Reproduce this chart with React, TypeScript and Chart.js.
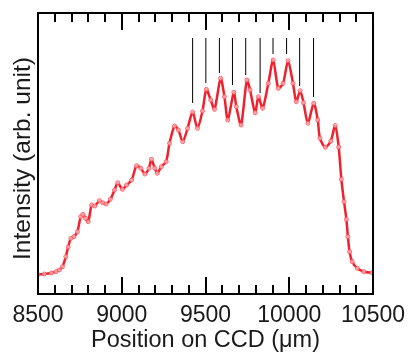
import React, { useEffect, useRef } from "react";
import { Chart, registerables } from "chart.js";

Chart.register(...registerables);

// Spectrum positions (µm) and intensities (arb. unit)
const positions = [
  8500, 8538, 8580, 8607, 8627, 8646, 8666, 8680, 8696, 8715, 8735, 8755, 8768, 8784, 8800,
  8820, 8839, 8867, 8886, 8906, 8932, 8957, 8976, 9004, 9029, 9059, 9088, 9114, 9138, 9162,
  9177, 9197, 9212, 9236, 9265, 9285, 9315, 9338, 9364, 9393, 9423, 9452, 9482, 9505, 9531,
  9554, 9590, 9613, 9633, 9669, 9684, 9712, 9747, 9766, 9796, 9816, 9841, 9875, 9904, 9934,
  9963, 9993, 10022, 10042, 10065, 10085, 10111, 10146, 10170, 10183, 10215, 10248, 10274, 10295,
  10311, 10327, 10341, 10350, 10360, 10376, 10406, 10445, 10494,
];
const intensities = [
  19.5, 20, 21, 22.3, 24, 27.3, 37.3, 47, 55.7, 57.3, 62.3, 77.3, 79.7, 75.7, 72.3,
  89, 88, 93.3, 91.3, 90, 94.7, 104, 111.3, 104.7, 109, 114, 128.3, 125.7, 120, 125.7,
  134.7, 125.7, 120.7, 127.3, 132.3, 150.7, 168, 164, 152.3, 165.7, 182, 165.7, 183, 204.7, 194,
  184.7, 215.7, 197.3, 174, 201.7, 187.3, 169, 214, 204, 181.3, 197.3, 185.7, 210.7, 234, 205.7,
  210.7, 233.3, 210.7, 192.3, 203.3, 191.3, 170.7, 190.7, 174, 155.7, 146.7, 153, 168.5, 147,
  114.7, 92.3, 74.7, 57.3, 42.3, 32.3, 25.7, 22.3, 21.3,
];

// Peak marker lines
const markerPositions = [9423, 9502, 9583, 9661, 9740, 9826, 9903, 9984, 10062, 10145];
const markerBottoms = [191, 211, 221, 209, 219, 201, 240, 240, 208, 197];
const markerTop = 256;

// Axis ticks
const xMajorTicks = [8500, 9000, 9500, 10000, 10500];
const xMinorTicks = [
  8600, 8700, 8800, 8900, 9100, 9200, 9300, 9400, 9600, 9700, 9800, 9900,
  10100, 10200, 10300, 10400,
];

const yTitle = "Intensity (arb. unit)";
const xTitle = "Position on CCD (μm)";

const FONT = "'Liberation Sans', Arial, sans-serif";

const frameTicksPlugin = {
  id: "frameTicks",
  afterDraw(chart: any) {
    const { ctx, chartArea } = chart;
    const xs = chart.scales.x;
    ctx.save();
    ctx.strokeStyle = "#000";
    ctx.lineWidth = 2;
    const drawTick = (v: number, len: number) => {
      const px = Math.round(xs.getPixelForValue(v));
      ctx.beginPath();
      ctx.moveTo(px, chartArea.bottom);
      ctx.lineTo(px, chartArea.bottom - len);
      ctx.moveTo(px, chartArea.top);
      ctx.lineTo(px, chartArea.top + len);
      ctx.stroke();
    };
    xMajorTicks.forEach((v) => drawTick(v, 17));
    xMinorTicks.forEach((v) => drawTick(v, 9));
    ctx.strokeRect(
      chartArea.left,
      chartArea.top,
      chartArea.right - chartArea.left,
      chartArea.bottom - chartArea.top
    );
    // y-axis title
    ctx.translate(23, (chartArea.top + chartArea.bottom) / 2 + 5);
    ctx.rotate(-Math.PI / 2);
    ctx.fillStyle = "#1a1a1a";
    ctx.font = `24.5px ${FONT}`;
    ctx.textAlign = "center";
    ctx.textBaseline = "middle";
    ctx.fillText(yTitle, 0, 0);
    ctx.restore();
  },
};

export default function App() {
  const ref = useRef<HTMLCanvasElement | null>(null);
  useEffect(() => {
    if (!ref.current) return;
    const spectrum = positions.map((x, i) => ({ x, y: intensities[i] }));
    const markerSets = markerPositions.map((x, i) => ({
      data: [
        { x, y: markerBottoms[i] },
        { x, y: markerTop },
      ],
      showLine: true,
      borderColor: "#000",
      borderWidth: 1,
      pointRadius: 0,
      tension: 0,
    }));
    const chart = new Chart(ref.current, {
      type: "scatter",
      data: {
        datasets: [
          {
            data: spectrum,
            showLine: true,
            borderColor: "#f0202c",
            borderWidth: 2.5,
            tension: 0.25,
            pointRadius: 2,
            pointBorderWidth: 1,
            pointBorderColor: "rgba(255,80,90,0.85)",
            pointBackgroundColor: "rgba(255,210,210,0.7)",
          },
          ...markerSets,
        ] as any,
      },
      options: {
        responsive: false,
        animation: false,
        devicePixelRatio: 1,
        layout: { padding: { top: 13, right: 35, left: 0, bottom: 0 } },
        plugins: { legend: { display: false }, tooltip: { enabled: false } },
        scales: {
          x: {
            type: "linear",
            position: "bottom",
            min: 8500,
            max: 10500,
            grid: { display: false, drawTicks: false },
            border: { display: false },
            afterBuildTicks: (s: any) => {
              s.ticks = xMajorTicks.map((v) => ({ value: v }));
            },
            afterFit: (s: any) => {
              s.height = 58;
            },
            ticks: {
              autoSkip: false,
              maxRotation: 0,
              padding: 8,
              color: "#1a1a1a",
              font: { family: FONT, size: 23 },
              callback: (v: any) => String(v),
            },
            title: {
              display: true,
              text: xTitle,
              color: "#1a1a1a",
              font: { family: FONT, size: 23.5, lineHeight: 1 },
              padding: { top: 0, bottom: 0 },
            },
          },
          y: {
            type: "linear",
            position: "left",
            min: 0,
            max: 281,
            grid: { display: false, drawTicks: false },
            border: { display: false },
            ticks: { display: false },
            afterFit: (s: any) => {
              s.width = 38;
            },
            title: { display: false },
          },
        },
      } as any,
      plugins: [frameTicksPlugin],
    });
    return () => chart.destroy();
  }, []);
  return (
    <div style={{ position: "fixed", left: 0, top: 0, width: 413, height: 352, background: "#fff" }}>
      <canvas ref={ref} width={413} height={352} style={{ width: 413, height: 352 }} />
    </div>
  );
}
